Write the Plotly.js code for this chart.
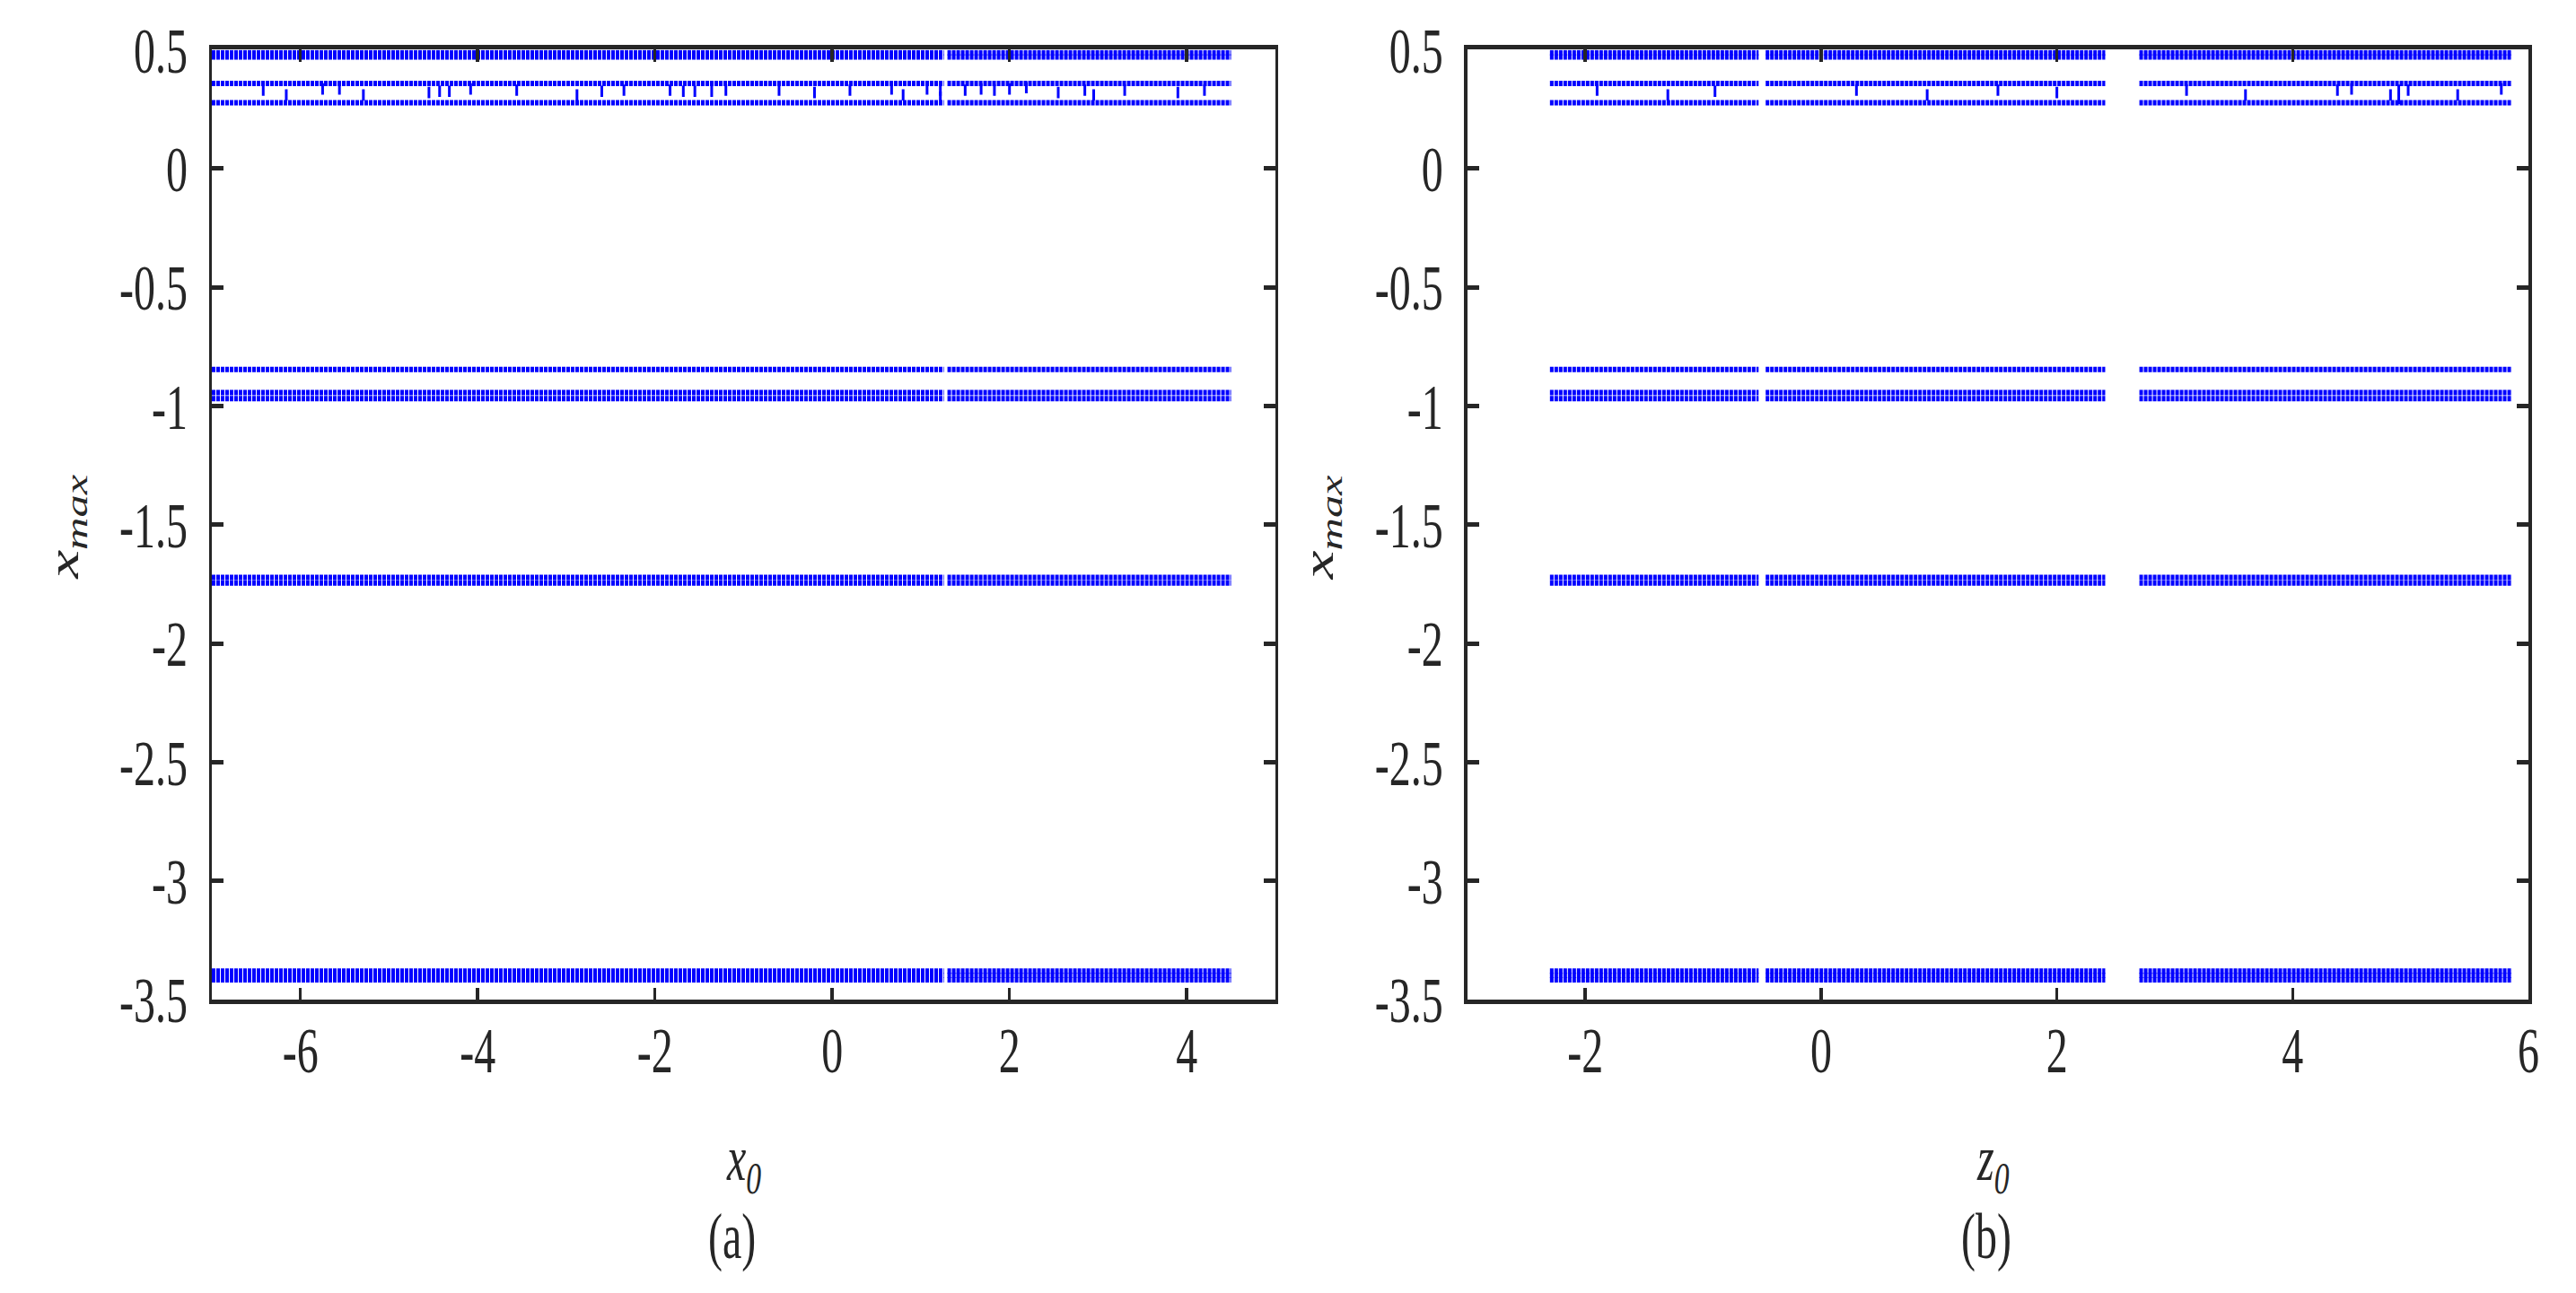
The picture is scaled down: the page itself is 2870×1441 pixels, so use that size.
<!DOCTYPE html>
<html>
<head>
<meta charset="utf-8">
<script src="https://cdn.plot.ly/plotly-3.0.1.min.js"></script>
<style>
  html, body { margin: 0; padding: 0; background: #ffffff; overflow: hidden; width: 2870px; height: 1441px; }
  #plot { width: 2870px; height: 961px; }
</style>
</head>
<body>
<div id="plot"></div>
<script>
// ---- data ----
// levels (x_max) of the horizontal rows of local maxima
const rowLevels = [0.488, 0.470, 0.358, 0.277, -0.846, -0.943, -0.969, -1.722, -1.745, -3.380, -3.398, -3.416];

// x0 sweep (panel a): segments where maxima exist
const segA_start = [-7.00, 1.30];
const segA_end   = [1.26, 4.50];

// z0 sweep (panel b): segments where maxima exist
const segB_start = [-2.30, -0.47, 2.70];
const segB_end   = [-0.53, 2.41, 5.86];

// scattered maxima between the two rows near 0.28..0.36
const sporA_x = [-6.42, -6.16, -5.75, -5.56, -5.29, -4.55, -4.43, -4.32, -4.08, -3.56, -2.88, -2.60, -2.35, -1.83, -1.68, -1.55, -1.36, -1.20, -0.60, -0.20, 0.20, 0.67, 0.80, 1.07, 1.22, 1.22, 1.50, 1.68, 1.83, 2.00, 2.19, 2.55, 2.85, 2.95, 3.30, 3.90, 4.20];
const sporA_y = [0.330, 0.310, 0.335, 0.335, 0.310, 0.320, 0.325, 0.325, 0.335, 0.330, 0.310, 0.325, 0.330, 0.330, 0.325, 0.325, 0.325, 0.330, 0.330, 0.320, 0.330, 0.335, 0.310, 0.335, 0.330, 0.300, 0.330, 0.335, 0.330, 0.335, 0.340, 0.320, 0.330, 0.310, 0.330, 0.320, 0.330];
const sporB_x = [-1.90, -1.30, -0.90, 0.30, 0.90, 1.50, 2.00, 3.10, 3.60, 4.38, 4.50, 4.83, 4.90, 4.90, 4.98, 5.40, 5.77];
const sporB_y = [0.330, 0.310, 0.325, 0.330, 0.310, 0.330, 0.320, 0.330, 0.310, 0.330, 0.335, 0.310, 0.330, 0.295, 0.330, 0.310, 0.335];

// tick labels
const yTickVals = [0.5, 0, -0.5, -1, -1.5, -2, -2.5, -3, -3.5];
const yTickText = ['0.5', '0', '-0.5', '-1', '-1.5', '-2', '-2.5', '-3', '-3.5'];
const xaTickVals = [-6, -4, -2, 0, 2, 4];
const xaTickText = ['-6', '-4', '-2', '0', '2', '4'];
const xbTickVals = [-2, 0, 2, 4, 6];
const xbTickText = ['-2', '0', '2', '4', '6'];

// ---- build traces ----
const BLUE = '#0000ff';
const INK = '#262626';
const FONT = "'Liberation Serif', 'Times New Roman', serif";

function rowTrace(level, starts, ends, xa, ya) {
  const xs = [], ys = [];
  for (let i = 0; i < starts.length; i++) {
    xs.push(starts[i], ends[i], null);
    ys.push(level, level, null);
  }
  return {
    type: 'scatter', mode: 'lines', x: xs, y: ys, xaxis: xa, yaxis: ya,
    line: { color: BLUE, width: 4, dash: '4px,1px' }, hoverinfo: 'skip', showlegend: false
  };
}

const traces = [];
rowLevels.forEach(l => traces.push(rowTrace(l, segA_start, segA_end, 'x', 'y')));
rowLevels.forEach(l => traces.push(rowTrace(l, segB_start, segB_end, 'x2', 'y2')));
traces.push({
  type: 'scatter', mode: 'markers', x: sporA_x, y: sporA_y, xaxis: 'x', yaxis: 'y',
  marker: { symbol: 'line-ns-open', size: 6, color: BLUE, line: { color: BLUE, width: 3 } },
  hoverinfo: 'skip', showlegend: false
});
traces.push({
  type: 'scatter', mode: 'markers', x: sporB_x, y: sporB_y, xaxis: 'x2', yaxis: 'y2',
  marker: { symbol: 'line-ns-open', size: 6, color: BLUE, line: { color: BLUE, width: 3 } },
  hoverinfo: 'skip', showlegend: false
});

function xAxis(domain, range, vals, text, anchor) {
  return {
    domain: domain, range: range, anchor: anchor,
    tickmode: 'array', tickvals: vals, ticktext: text,
    ticks: 'inside', ticklen: 9, tickwidth: 3.5, tickcolor: INK,
    showline: true, linewidth: 3.5, linecolor: INK, mirror: 'ticks',
    showgrid: false, zeroline: false,
    tickfont: { family: FONT, size: 48, color: INK },
    ticklabelstandoff: -7
  };
}
function yAxis(anchor) {
  return {
    domain: [0, 1], range: [-3.5, 0.5], anchor: anchor,
    tickmode: 'array', tickvals: yTickVals, ticktext: yTickText,
    ticks: 'inside', ticklen: 13, tickwidth: 3.5, tickcolor: INK,
    showline: true, linewidth: 3.5, linecolor: INK, mirror: 'ticks',
    showgrid: false, zeroline: false,
    tickfont: { family: FONT, size: 48, color: INK },
    ticklabelstandoff: 14
  };
}

const annFont = { family: FONT, size: 48, color: INK };
const layout = {
  width: 2870, height: 961,
  margin: { l: 236, r: 53, t: 37, b: 218, pad: 0 },
  paper_bgcolor: '#ffffff', plot_bgcolor: '#ffffff',
  showlegend: false,
  xaxis: xAxis([0, 0.4591], [-7, 5], xaTickVals, xaTickText, 'y'),
  yaxis: yAxis('x'),
  xaxis2: xAxis([0.5420, 1], [-3, 6], xbTickVals, xbTickText, 'y2'),
  yaxis2: yAxis('x2'),
  annotations: [
    { xref: 'paper', yref: 'paper', x: 0.2294, y: -0.172, xanchor: 'center', yanchor: 'middle',
      text: '<i>x</i><sub><i>0</i></sub>', showarrow: false, font: annFont },
    { xref: 'paper', yref: 'paper', x: 0.769, y: -0.172, xanchor: 'center', yanchor: 'middle',
      text: '<i>z</i><sub><i>0</i></sub>', showarrow: false, font: annFont },
    { xref: 'paper', yref: 'paper', x: 0.2247, y: -0.249, xanchor: 'center', yanchor: 'middle',
      text: '(a)', showarrow: false, font: annFont },
    { xref: 'paper', yref: 'paper', x: 0.766, y: -0.249, xanchor: 'center', yanchor: 'middle',
      text: '(b)', showarrow: false, font: annFont },
    { xref: 'paper', yref: 'paper', x: -0.0628, y: 0.497, xanchor: 'center', yanchor: 'middle',
      textangle: -90, text: '<i>x</i><sub><i>max</i></sub>', showarrow: false, font: annFont },
    { xref: 'paper', yref: 'paper', x: 0.479, y: 0.497, xanchor: 'center', yanchor: 'middle',
      textangle: -90, text: '<i>x</i><sub><i>max</i></sub>', showarrow: false, font: annFont }
  ]
};

Plotly.newPlot('plot', traces, layout, { staticPlot: true, displayModeBar: false }).then(function (gd) {
  // the reference figure is stretched vertically by 1.5: stretch the SVG drawing the same way
  gd.style.height = '1441px';
  const cont = gd.querySelector('.svg-container');
  if (cont) cont.style.height = '1441px';
  gd.querySelectorAll('svg.main-svg').forEach(function (s) {
    s.setAttribute('viewBox', '0 0 2870 961');
    s.setAttribute('preserveAspectRatio', 'none');
    s.setAttribute('height', '1441');
    s.style.height = '1441px';
  });
});
</script>
</body>
</html>
